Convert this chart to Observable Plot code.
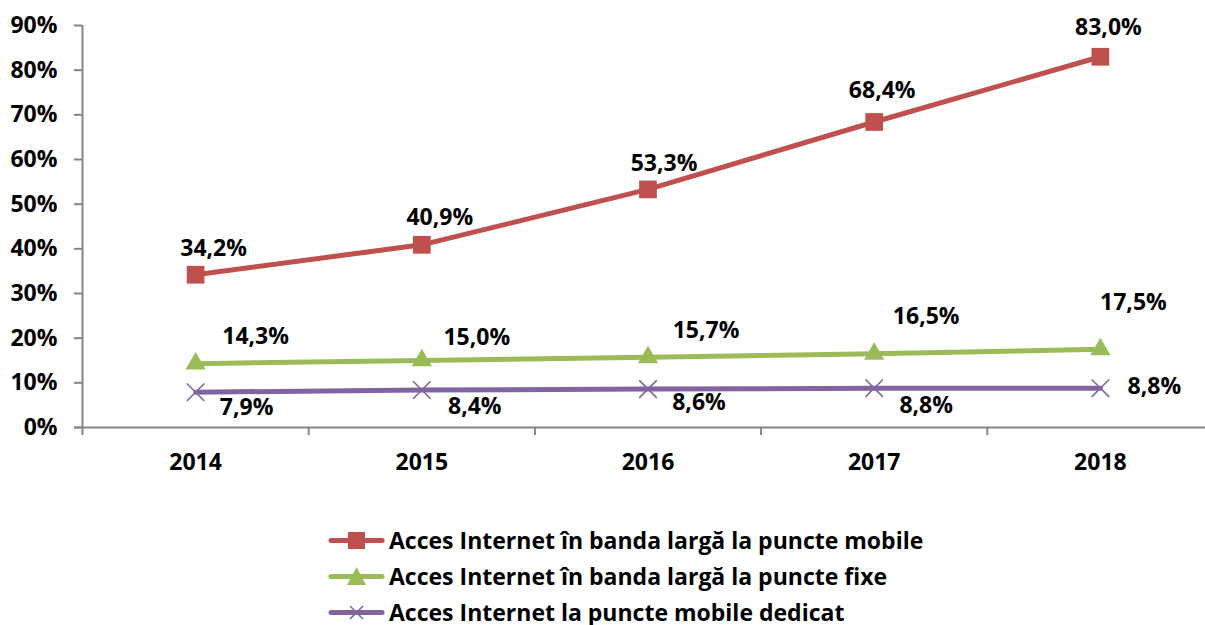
<!DOCTYPE html>
<html>
<head>
<meta charset="utf-8">
<script src="https://cdn.jsdelivr.net/npm/d3@7"></script>
<script src="https://cdn.jsdelivr.net/npm/@observablehq/plot@0.6"></script>
<style>
  html, body { margin: 0; padding: 0; background: #fff; overflow: hidden; }
  #chart { position: absolute; left: 0; top: 0; }
  #legend { position: absolute; left: 328px; top: 522px; font-family: "Open Sans", sans-serif; font-weight: bold; font-size: 23px; color: #000; }
  .row { height: 36px; display: flex; align-items: center; }
  .row svg { margin-right: 4px; }
</style>
</head>
<body>
<div id="chart"></div>
<div id="legend"></div>
<script>
// ---- data ----
const years = [2014, 2015, 2016, 2017, 2018];
const mobileBroadband = [34.2, 40.9, 53.3, 68.4, 83.0];
const fixedBroadband = [14.3, 15.0, 15.7, 16.5, 17.5];
const mobileDedicated = [7.9, 8.4, 8.6, 8.8, 8.8];
const seriesNames = [
  "Acces Internet în banda largă la puncte mobile",
  "Acces Internet în banda largă la puncte fixe",
  "Acces Internet la puncte mobile dedicat"
];
const yTicks = [0, 10, 20, 30, 40, 50, 60, 70, 80, 90];

// ---- styles ----
const colors = ["#C0504D", "#9BBB59", "#8064A2"];
const labelOffsets = [
  [[18, -26], [18, -27], [16, -26], [8, -31], [8, -29]],
  [[60, -27], [55, -23], [58, -27], [52, -37], [33, -47]],
  [[51, 15], [53, 17], [51, 14], [52, 17], [54, -2]]
];
const font = "'Open Sans', sans-serif";
const fs = 23;

const seriesValues = [mobileBroadband, fixedBroadband, mobileDedicated];
const rows = seriesValues.map((vals, s) => years.map((year, i) => ({series: s, year, value: vals[i]})));
const fmt = v => d3.format(".1f")(v).replace(".", ",") + "%";
const boundaries = years.map(y => y - 0.5).concat([years[years.length - 1] + 0.5]);
const axisGray = "#868686";

const marks = [
  Plot.ruleY([0], {stroke: axisGray, strokeWidth: 2, insetLeft: -8}),
  Plot.ruleX([boundaries[0]], {y1: 0, y2: yTicks[yTicks.length - 1], stroke: axisGray, strokeWidth: 2}),
  Plot.axisY({ticks: yTicks, label: null, tickSize: 8, tickPadding: 17, stroke: axisGray, strokeWidth: 2, fill: "black", tickFormat: d => d + "%", fontWeight: "bold", fontSize: fs}),
  Plot.axisX({ticks: boundaries, label: null, tickSize: 8, stroke: axisGray, strokeWidth: 2, tickFormat: () => ""}),
  Plot.axisX({ticks: years, label: null, tickSize: 0, tickPadding: 26, fill: "black", tickFormat: d => String(d), fontWeight: "bold", fontSize: fs})
];

rows.forEach((data, s) => {
  marks.push(Plot.line(data, {x: "year", y: "value", stroke: colors[s], strokeWidth: 5}));
});
rows.forEach((data, s) => {
  if (s === 2) {
    marks.push(Plot.dot(data, {x: "year", y: "value", symbol: "times", r: 8, stroke: colors[s], strokeWidth: 1.6, fill: "none"}));
  } else if (s === 1) {
    marks.push(Plot.dot(data, {x: "year", y: "value", symbol: "triangle", r: 7.5, fill: colors[s], stroke: "none"}));
  } else {
    marks.push(Plot.dot(data, {x: "year", y: "value", symbol: "square", r: 10, fill: colors[s], stroke: "none"}));
  }
});
rows.forEach((data, s) => {
  data.forEach((d, i) => {
    marks.push(Plot.text([d], {x: "year", y: "value", text: d => fmt(d.value), dx: labelOffsets[s][i][0], dy: labelOffsets[s][i][1], fill: "black", fontWeight: "bold", fontSize: fs}));
  });
});

const chart = Plot.plot({
  width: 1205,
  height: 490,
  marginLeft: 82,
  marginRight: -8,
  marginTop: 25,
  marginBottom: 63,
  style: {fontFamily: font, fontSize: fs + "px", background: "white", overflow: "hidden"},
  x: {type: "linear", domain: [boundaries[0], boundaries[boundaries.length - 1]], axis: null},
  y: {domain: [0, yTicks[yTicks.length - 1]], axis: null},
  marks
});
document.getElementById("chart").appendChild(chart);

// ---- legend ----
const legend = document.getElementById("legend");
const markerSvg = [
  c => `<rect x="20" y="10" width="17" height="17" fill="${c}"/>`,
  c => `<path d="M28.5,9 L38,27 L19,27 Z" fill="${c}"/>`,
  c => `<path d="M22,12 L35,25 M35,12 L22,25" stroke="${c}" stroke-width="1.6" fill="none"/>`
];
seriesNames.forEach((name, s) => {
  const row = document.createElement("div");
  row.className = "row";
  row.innerHTML = `<svg width="57" height="37" viewBox="0 0 57 37"><line x1="3" y1="18.5" x2="54" y2="18.5" stroke="${colors[s]}" stroke-width="5" stroke-linecap="round"/>${markerSvg[s](colors[s])}</svg><span>${name}</span>`;
  legend.appendChild(row);
});
</script>
</body>
</html>
